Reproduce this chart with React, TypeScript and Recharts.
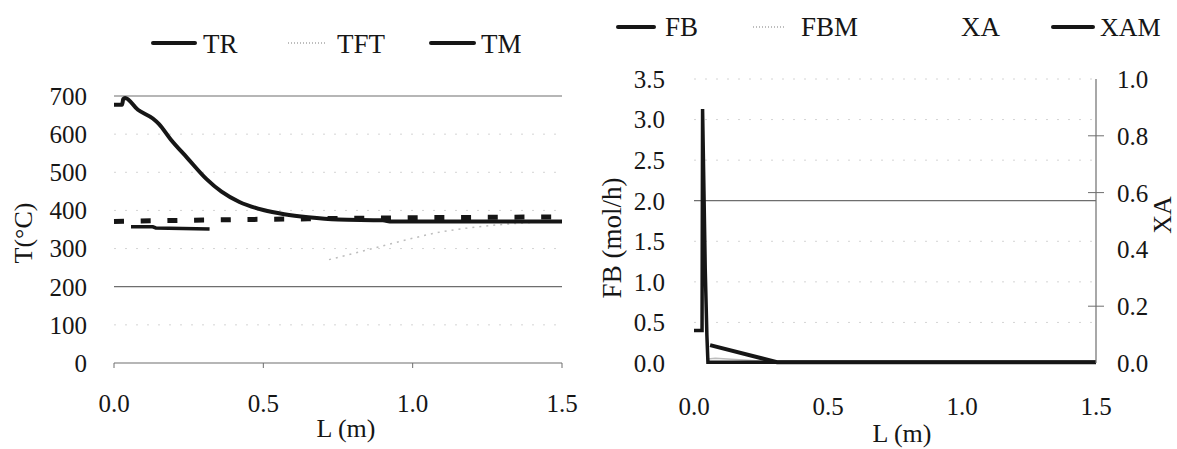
import React from "react";
import { LineChart, Line, XAxis, YAxis, ReferenceLine } from "recharts";

const FONT = "'Liberation Serif', 'DejaVu Serif', 'Times New Roman', serif";
const INK = "#161616";
const GRID = "#6e6e6e";
const FAINT = "#d4d4d4";
const PALE = "#bdbdbd";

// ---- left panel: temperatures vs. length
const L_TICKS = [0, 0.5, 1.0, 1.5];
const T_TICKS = [0, 100, 200, 300, 400, 500, 600, 700];
const T_SOLID_GRID = [700, 200, 0];
const T_FAINT_GRID = [600, 500, 400, 300, 100];

const TR = [
  { x: 0, y: 677 },
  { x: 0.027, y: 677 },
  { x: 0.031, y: 692 },
  { x: 0.037, y: 695 },
  { x: 0.08, y: 664 },
  { x: 0.13, y: 641 },
  { x: 0.15, y: 627 },
  { x: 0.19, y: 586 },
  { x: 0.245, y: 538 },
  { x: 0.31, y: 482 },
  { x: 0.36, y: 449 },
  { x: 0.42, y: 422 },
  { x: 0.5, y: 401 },
  { x: 0.57, y: 390 },
  { x: 0.65, y: 382 },
  { x: 0.75, y: 376 },
  { x: 0.9, y: 374 },
  { x: 0.93, y: 371 },
  { x: 1.5, y: 371 },
];
const TFT = [
  { x: 0.72, y: 271 },
  { x: 0.87, y: 301 },
  { x: 1.0, y: 327 },
  { x: 1.07, y: 340 },
  { x: 1.22, y: 357 },
  { x: 1.5, y: 372 },
];
const TM = [
  { x: 0, y: 371 },
  { x: 0.3, y: 375 },
  { x: 0.65, y: 378 },
  { x: 1.0, y: 381 },
  { x: 1.5, y: 383 },
];
const TM_SEGMENT = [
  { x: 0.057, y: 357 },
  { x: 0.13, y: 357 },
  { x: 0.14, y: 354 },
  { x: 0.32, y: 351 },
];

// ---- right panel: molar flow and conversion
const FB_TICKS = [0, 0.5, 1.0, 1.5, 2.0, 2.5, 3.0, 3.5];
const FB_SOLID_GRID = [2.0];
const FB_FAINT_GRID = [3.5, 3.0, 2.5, 1.5, 1.0, 0.5];
const XA_TICKS = [0, 0.2, 0.4, 0.6, 0.8, 1.0];
const XA_CROSS = [0.2, 0.6, 0.8];

const FB = [
  { x: 0, y: 0.4 },
  { x: 0.03, y: 0.4 },
  { x: 0.032, y: 3.13 },
  { x: 0.042, y: 1.15 },
  { x: 0.048, y: 0.35 },
  { x: 0.052, y: 0.01 },
  { x: 1.5, y: 0.01 },
];
const FBM = [
  { x: 0.05, y: 0.05 },
  { x: 0.08, y: 0.06 },
  { x: 0.17, y: 0.04 },
  { x: 0.31, y: 0.01 },
  { x: 1.5, y: 0.01 },
];
const XAM = [
  { x: 0.06, y: 0.063 },
  { x: 0.31, y: 0.003 },
  { x: 1.5, y: 0.003 },
];

const tickStyle = { fontSize: 25, fill: INK, fontFamily: FONT };
const fmt1 = (v: number) => v.toFixed(1);

function XaTick(props: any) {
  const { x, y, payload } = props;
  const v = payload.value as number;
  return (
    <g>
      {XA_CROSS.includes(v) && (
        <line x1={x - 29} x2={x - 13} y1={y} y2={y} stroke={GRID} strokeWidth={1} />
      )}
      <text x={x} y={y} dy="0.36em" textAnchor="start" fontSize={25} fontFamily={FONT} fill={INK}>
        {v.toFixed(1)}
      </text>
    </g>
  );
}

function LeftChart() {
  return (
    <LineChart width={590} height={449} margin={{ top: 96, right: 28, bottom: 0, left: 0 }}>
      <XAxis
        type="number"
        dataKey="x"
        domain={[0, 1.5]}
        ticks={L_TICKS}
        tickFormatter={fmt1}
        axisLine={false}
        tickLine={{ stroke: GRID }}
        tickSize={5}
        tickMargin={26}
        height={86}
        tick={tickStyle}
      />
      <YAxis
        type="number"
        domain={[0, 700]}
        ticks={T_TICKS}
        axisLine={false}
        tickLine={false}
        tickSize={0}
        tickMargin={27}
        width={114}
        tick={tickStyle}
      />
      {T_FAINT_GRID.map((v) => (
        <ReferenceLine key={v} y={v} stroke={FAINT} strokeDasharray="2 9" />
      ))}
      {T_SOLID_GRID.map((v) => (
        <ReferenceLine key={v} y={v} stroke={GRID} strokeWidth={1.2} />
      ))}
      <Line data={TFT} dataKey="y" type="monotone" stroke={PALE} strokeWidth={1.5} strokeDasharray="2 5" dot={false} isAnimationActive={false} />
      <Line data={TM_SEGMENT} dataKey="y" type="linear" stroke={INK} strokeWidth={3.5} dot={false} legendType="none" isAnimationActive={false} />
      <Line data={TM} dataKey="y" type="linear" stroke={INK} strokeWidth={5} strokeDasharray="10 16.7" dot={false} isAnimationActive={false} />
      <Line data={TR} dataKey="y" type="monotone" stroke={INK} strokeWidth={4} strokeLinejoin="round" dot={false} isAnimationActive={false} />
    </LineChart>
  );
}

function RightChart() {
  return (
    <LineChart width={587} height={449} margin={{ top: 79, right: 0, bottom: 0, left: 0 }}>
      <XAxis
        type="number"
        dataKey="x"
        domain={[0, 1.5]}
        ticks={L_TICKS}
        tickFormatter={fmt1}
        axisLine={false}
        tickLine={false}
        tickSize={0}
        tickMargin={34}
        height={86}
        tick={tickStyle}
      />
      <YAxis
        yAxisId="left"
        type="number"
        domain={[0, 3.5]}
        ticks={FB_TICKS}
        tickFormatter={fmt1}
        axisLine={false}
        tickLine={false}
        tickSize={0}
        tickMargin={29}
        width={104}
        tick={tickStyle}
      />
      <YAxis
        yAxisId="right"
        orientation="right"
        type="number"
        domain={[0, 1]}
        ticks={XA_TICKS}
        axisLine={{ stroke: GRID, strokeWidth: 1.2 }}
        tickLine={false}
        tickSize={0}
        tickMargin={21}
        width={81}
        tick={<XaTick />}
      />
      {FB_FAINT_GRID.map((v) => (
        <ReferenceLine key={v} yAxisId="left" y={v} stroke={FAINT} strokeDasharray="2 9" />
      ))}
      {FB_SOLID_GRID.map((v) => (
        <ReferenceLine key={v} yAxisId="left" y={v} stroke={GRID} strokeWidth={1.2} />
      ))}
      <Line yAxisId="left" data={FBM} dataKey="y" type="linear" stroke={PALE} strokeWidth={1.5} dot={false} isAnimationActive={false} />
      <Line yAxisId="left" data={FB} dataKey="y" type="linear" stroke={INK} strokeWidth={3.5} dot={false} isAnimationActive={false} />
      <Line yAxisId="right" data={XAM} dataKey="y" type="linear" stroke={INK} strokeWidth={4} dot={false} isAnimationActive={false} />
    </LineChart>
  );
}

const LEFT_LEGEND = ["TR", "TFT", "TM"];
const RIGHT_LEGEND = ["FB", "FBM", "XA", "XAM"];

function Overlay() {
  const txt = { fontFamily: FONT, fill: INK };
  const solid = { stroke: INK, strokeWidth: 4, strokeLinecap: "round" as const };
  const pale = { stroke: PALE, strokeWidth: 2, strokeDasharray: "1 2" };
  return (
    <svg width={1177} height={449} style={{ position: "absolute", left: 0, top: 0, pointerEvents: "none" }}>
      {/* left legend */}
      <line x1={153} x2={195} y1={43} y2={43} {...solid} />
      <text x={203} y={44} dy="0.35em" fontSize={27} {...txt}>{LEFT_LEGEND[0]}</text>
      <line x1={288} x2={325} y1={43} y2={43} {...pale} />
      <text x={337} y={44} dy="0.35em" fontSize={27} {...txt}>{LEFT_LEGEND[1]}</text>
      <line x1={431} x2={474} y1={43} y2={43} {...solid} />
      <text x={481} y={44} dy="0.35em" fontSize={27} {...txt}>{LEFT_LEGEND[2]}</text>
      {/* right legend */}
      <line x1={618} x2={654} y1={27} y2={27} {...solid} />
      <text x={665} y={27} dy="0.35em" fontSize={27} {...txt}>{RIGHT_LEGEND[0]}</text>
      <line x1={753} x2={786} y1={27} y2={27} {...pale} />
      <text x={801} y={27} dy="0.35em" fontSize={27} {...txt}>{RIGHT_LEGEND[1]}</text>
      <text x={961} y={27} dy="0.35em" fontSize={27} {...txt}>{RIGHT_LEGEND[2]}</text>
      <line x1={1053} x2={1093} y1={27} y2={27} {...solid} />
      <text x={1100} y={27} dy="0.35em" fontSize={26} {...txt}>{RIGHT_LEGEND[3]}</text>
      {/* axis titles */}
      <text x={23} y={233} dy="0.35em" textAnchor="middle" fontSize={26} transform="rotate(-90 23 233)" {...txt}>T(°C)</text>
      <text x={346} y={428} dy="0.35em" textAnchor="middle" fontSize={26} {...txt}>L (m)</text>
      <text x={612} y={238} dy="0.35em" textAnchor="middle" fontSize={27} transform="rotate(-90 612 238)" {...txt}>FB (mol/h)</text>
      <text x={902} y={433} dy="0.35em" textAnchor="middle" fontSize={26} {...txt}>L (m)</text>
      <text x={1162} y={215} dy="0.35em" textAnchor="middle" fontSize={26} transform="rotate(-90 1162 215)" {...txt}>XA</text>
    </svg>
  );
}

export default function App() {
  return (
    <div style={{ position: "absolute", left: 0, top: 0, width: 1177, height: 449, background: "#fff", overflow: "hidden" }}>
      <div style={{ position: "absolute", left: 0, top: 0 }}>
        <LeftChart />
      </div>
      <div style={{ position: "absolute", left: 590, top: 0 }}>
        <RightChart />
      </div>
      <Overlay />
    </div>
  );
}
